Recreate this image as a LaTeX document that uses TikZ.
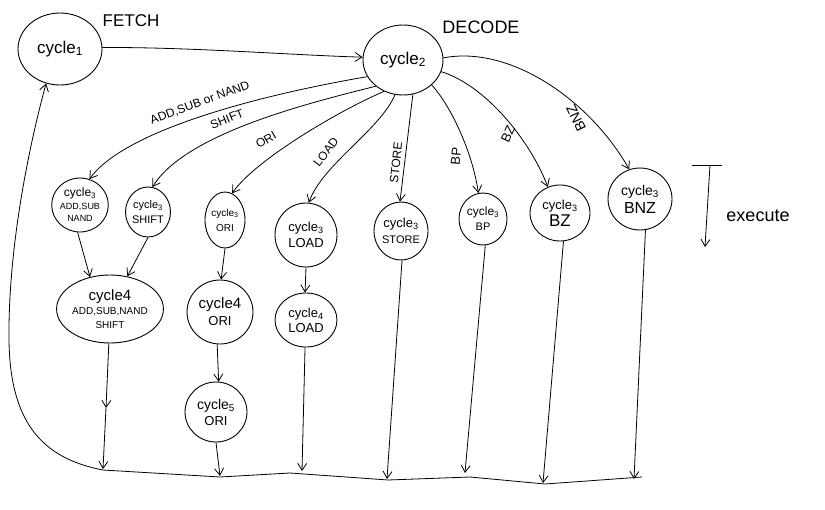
\documentclass[tikz,border=0pt]{standalone}
\usepackage{fontspec}
\setmainfont{Liberation Sans}
\usetikzlibrary{shapes.geometric,arrows.meta}
\newcommand\fz[1]{\fontsize{#1}{#1}\selectfont}
\begin{document}
\begin{tikzpicture}[x=1pt,y=-1pt,
  st/.style={draw, ellipse, line width=0.9pt, inner sep=0pt, align=center},
  arr/.style={-{Straight Barb[length=7pt,width=9pt]}, line width=0.8pt},
  ln/.style={line width=0.8pt},
  lab/.style={inner sep=0pt}]
\useasboundingbox[fill=white] (0,0) rectangle (825,509);

% fetch / decode
\node[st, minimum width=84, minimum height=72] (c1) at (60,49) {\fz{17}cycle\textsubscript{1}};
\node[st, minimum width=80, minimum height=70] (c2) at (403,60) {\fz{17}cycle\textsubscript{2}};
\node[lab] (fetch) at (131,21) {\fz{17}FETCH};
\node[lab] (decode) at (481,27) {\fz{18}DECODE};

% cycle 3
\node[st, minimum width=56, minimum height=54] (c3a) at (80,205) {\fz{12}cycle\textsubscript{3}\\[1pt]\fz{9}ADD,SUB\\\fz{9}NAND};
\node[st, minimum width=44, minimum height=50] (c3b) at (148,212) {\fz{11}cycle\textsubscript{3}\\[3pt]\fz{11}SHIFT};
\node[st, minimum width=40, minimum height=56] (c3c) at (225,220) {\fz{10}cycle\textsubscript{3}\\[3pt]\fz{10}ORI};
\node[st, minimum width=62, minimum height=64] (c3d) at (306,235) {\fz{13}cycle\textsubscript{3}\\[4pt]\fz{13}LOAD};
\node[st, minimum width=54, minimum height=58] (c3e) at (401,231) {\fz{13}cycle\textsubscript{3}\\[4pt]\fz{11}STORE};
\node[st, minimum width=48, minimum height=52] (c3f) at (483,219) {\fz{12}cycle\textsubscript{3}\\[3pt]\fz{11}BP};
\node[st, minimum width=60, minimum height=56] (c3g) at (560,213) {\fz{13}cycle\textsubscript{3}\\[2pt]\fz{17}BZ};
\node[st, minimum width=64, minimum height=62] (c3h) at (640,199) {\fz{14}cycle\textsubscript{3}\\[3pt]\fz{16}BNZ};

% cycle 4 / 5
\node[st, minimum width=104, minimum height=68] (c4a) at (110,309) {\fz{15}cycle4\\[2pt]\fz{10}ADD,SUB,NAND\\[2pt]\fz{10}SHIFT};
\node[st, minimum width=66, minimum height=64] (c4b) at (220,312) {\fz{15}cycle4\\[4pt]\fz{13}ORI};
\node[st, minimum width=62, minimum height=54] (c4c) at (306,320) {\fz{13}cycle\textsubscript{4}\\[3pt]\fz{13}LOAD};
\node[st, minimum width=62, minimum height=60] (c5) at (216,412) {\fz{14}cycle\textsubscript{5}\\[4pt]\fz{13}ORI};

% fetch -> decode
\draw[arr] (c1.2) .. controls (190,47) and (290,55) .. (c2.176);

% decode -> cycle 3
\draw[arr] (c2.205) .. controls (260,95) and (125,130) .. (c3a.70);
\draw[arr] (c2.224) .. controls (300,105) and (185,135) .. (c3b.80);
\draw[arr] (c2.239) .. controls (340,110) and (255,160) .. (c3c.75);
\draw[arr] (c2.257) .. controls (380,130) and (322,165) .. (c3d.85);
\draw[arr] (c2.286) -- (c3e.92);
\draw[arr] (c2.319) .. controls (450,105) and (472,150) .. (c3f.100);
\draw[arr] (c2.343) .. controls (485,85) and (530,140) .. (c3g.115);
\draw[arr] (c2.3) .. controls (510,45) and (590,100) .. (c3h.110);

% edge labels
\node[lab, rotate=20] (lADD) at (200,103) {\fz{12}ADD,SUB or NAND};
\node[lab, rotate=22] (lSHIFT) at (227,119) {\fz{12}SHIFT};
\node[lab, rotate=30] (lORI) at (266,140) {\fz{12}ORI};
\node[lab, rotate=52] (lLOAD) at (326,152) {\fz{12}LOAD};
\node[lab, rotate=84] (lSTORE) at (396,163) {\fz{12}STORE};
\node[lab, rotate=85] (lBP) at (456,156) {\fz{13}BP};
\node[lab, rotate=65] (lBZ) at (508,134) {\fz{13}BZ};
\node[lab, rotate=115] (lBNZ) at (576,118) {\fz{14}BNZ};

% cycle 3 -> cycle 4 -> cycle 5
\draw[arr] (c3a.265) -- (c4a.122);
\draw[arr] (c3b.270) -- (c4a.62);
\draw[arr] (c3c.270) -- (c4b.88);
\draw[arr] (c3d.270) -- (c4c.92);
\draw[arr] (c4b.265) -- (c5.85);

% bottom return line
\coordinate (b1) at (103,469);
\coordinate (b2) at (220,476);
\coordinate (b3) at (302,471);
\coordinate (b4) at (387,479);
\coordinate (b5) at (465,473);
\coordinate (b6) at (543,483);
\coordinate (b7) at (634,479);
\coordinate (m1) at (106,408);

\coordinate (L7) at (642,477);
\coordinate (L6) at (545,484);
\coordinate (L5) at (470,477);
\coordinate (L4) at (388,480);
\coordinate (L3) at (290,473);
\coordinate (L2) at (220,477);
\coordinate (L1) at (103,470);

\draw[arr] (c4a.268) -- (m1);
\draw[arr] (m1) -- (b1);
\draw[arr] (c5.270) -- (b2);
\draw[arr] (c4c.268) -- (b3);
\draw[arr] (c3e.272) -- (b4);
\draw[arr] (c3f.275) -- (b5);
\draw[arr] (c3g.277) -- (b6);
\draw[arr] (c3h.280) -- (b7);

\draw[arr] (L7) -- (L6) -- (L5) -- (L4) -- (L3) -- (L2) -- (L1)
  .. controls (40,458) and (10,420) .. (9,340)
  .. controls (8,250) and (28,150) .. (c1.248);

% execute marker
\coordinate (tl) at (692,165);
\coordinate (tr) at (722,165);
\coordinate (ttop) at (710,165);
\coordinate (tbot) at (705,247);
\draw[ln] (tl) -- (tr);
\draw[arr] (ttop) -- (tbot);
\node[lab] (exec) at (758,216) {\fz{18}execute};
\end{tikzpicture}
\end{document}
